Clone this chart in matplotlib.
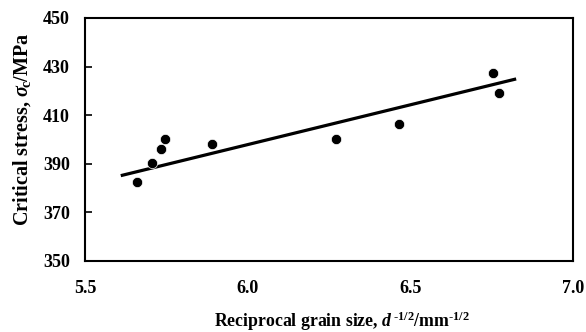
import numpy as np
import matplotlib
matplotlib.use("Agg")
import matplotlib.pyplot as plt

plt.rcParams['font.family'] = 'Liberation Serif'
plt.rcParams['font.weight'] = 'bold'
plt.rcParams['mathtext.fontset'] = 'custom'
plt.rcParams['mathtext.rm'] = 'Liberation Serif:bold'
plt.rcParams['mathtext.it'] = 'Liberation Serif:bold:italic'
plt.rcParams['mathtext.bf'] = 'Liberation Serif:bold'

# measured points
grain = [5.661, 5.705, 5.733, 5.745, 5.891, 6.27, 6.466, 6.753, 6.771]
stress = [382.4, 390.5, 396.2, 400.3, 398.3, 400.0, 406.4, 427.2, 419.0]

# fitted line ends
fit_x = [5.61, 6.825]
fit_y = [385.1, 424.9]

x_ticks = [5.5, 6.0, 6.5, 7.0]
y_ticks = [350, 370, 390, 410, 430, 450]

fig = plt.figure(figsize=(5.86, 3.32), dpi=100)
ax = fig.add_axes([0.145, 0.214, 0.833, 0.732])

ax.plot(fit_x, fit_y, color='black', lw=2.3, solid_capstyle='butt', zorder=2)
ax.plot(grain, stress, 'o', color='black', ms=7.4, mec='white', mew=0.5, zorder=3)

ax.set_xlim(5.5, 7.0)
ax.set_ylim(350, 450)
ax.set_xticks(x_ticks)
ax.set_xticklabels(['%.1f' % v for v in x_ticks])
ax.set_yticks(y_ticks)
ax.tick_params(axis='x', length=0, pad=14, labelsize=13)
ax.tick_params(axis='y', direction='in', length=5, width=1.2, pad=11, labelsize=13)
for s in ax.spines.values():
    s.set_linewidth(1.5)

hy = '\u2010'
fig.text(0.584, 0.033,
         r'Reciprocal grain size, $\mathit{d}^{\,\mathit{%s1/2}}$/mm$^{\mathrm{%s1/2}}$' % (hy, hy),
         ha='center', va='center', fontsize=12.8)
fig.text(0.038, 0.611, r'Critical stress, $\mathit{\sigma}_{\!\mathrm{c}}$/MPa',
         ha='center', va='center', rotation=90, fontsize=14.5)

fig.savefig('out.png', dpi=100)
